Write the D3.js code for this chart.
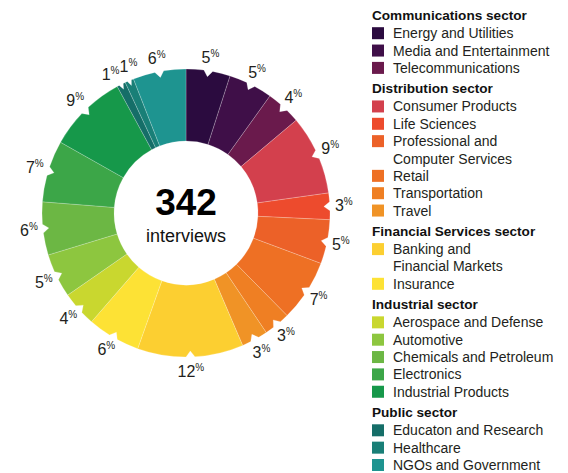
<!DOCTYPE html>
<html>
<head>
<meta charset="utf-8">
<script src="https://cdn.jsdelivr.net/npm/d3@7"></script>
<style>
  html, body { margin: 0; padding: 0; background: #fff; }
  svg { display: block; font-family: "Liberation Sans", Arial, Helvetica, sans-serif; }
</style>
</head>
<body>
<div id="chart"></div>
<script>
// industries, clockwise from 12 o'clock
const categories = [
  "Energy and Utilities", "Media and Entertainment", "Telecommunications",
  "Consumer Products", "Life Sciences", "Professional and\nComputer Services", "Retail", "Transportation", "Travel",
  "Banking and\nFinancial Markets", "Insurance",
  "Aerospace and Defense", "Automotive", "Chemicals and Petroleum", "Electronics", "Industrial Products",
  "Educaton and Research", "Healthcare", "NGOs and Government"
];
const sectorOf = [
  0, 0, 0,
  1, 1, 1, 1, 1, 1,
  2, 2,
  3, 3, 3, 3, 3,
  4, 4, 4
];
const sectors = ["Communications sector", "Distribution sector", "Financial Services sector", "Industrial sector", "Public sector"];
const percents = [5, 5, 4, 9, 3, 5, 7, 3, 3, 12, 6, 4, 5, 6, 7, 9, 1, 1, 6];
const colors = [
  "#2b0b3f", "#3f0f48", "#6a1a4c",
  "#d3404d", "#ed4b2d", "#ec6128", "#ee7024", "#ef7f23", "#f09326",
  "#fccf31", "#fde235",
  "#c9d72f", "#8dc63f", "#6cb744", "#3ca648", "#16984a",
  "#156e68", "#197f77", "#1e9490"
];
const total = 342;
const totalLabel = "interviews";

const config = {
  width: 568, height: 473,
  cx: 186, cy: 213,
  inner: 72, outer: 144,
  labelR: 158,
  legendX: 372, legendY: 6
};

const svg = d3.select("#chart").append("svg")
  .attr("width", config.width)
  .attr("height", config.height);

const data = categories.map((c, i) => ({name: c, value: percents[i], color: colors[i]}));

const pie = d3.pie().sort(null).value(d => d.value);
const arcs = pie(data);

// slice with a little V notch in the middle of the outer edge
function slicePath(d) {
  const r0 = config.inner, r1 = config.outer;
  const a0 = d.startAngle, a1 = d.endAngle, am = (a0 + a1) / 2;
  const span = a1 - a0;
  const half = Math.min(4.5 / r1, span / 4);
  const depth = Math.min(6, span * r1 * 0.6);
  const pt = (r, a) => [r * Math.sin(a), -r * Math.cos(a)];
  const p = d3.path();
  p.moveTo(...pt(r0, a0));
  p.lineTo(...pt(r1, a0));
  p.arc(0, 0, r1, a0 - Math.PI / 2, am - half - Math.PI / 2);
  p.lineTo(...pt(r1 - depth, am));
  p.lineTo(...pt(r1, am + half));
  p.arc(0, 0, r1, am + half - Math.PI / 2, a1 - Math.PI / 2);
  p.lineTo(...pt(r0, a1));
  p.arc(0, 0, r0, a1 - Math.PI / 2, a0 - Math.PI / 2, true);
  p.closePath();
  return p.toString();
}

const g = svg.append("g")
  .attr("transform", `translate(${config.cx},${config.cy})`);

g.append("g")
  .selectAll("path")
  .data(arcs)
  .join("path")
    .attr("d", slicePath)
    .attr("fill", d => d.data.color)
    .attr("stroke", "#fff")
    .attr("stroke-opacity", 0.35)
    .attr("stroke-width", 0.6);

// label angles, pushed apart where slices are too thin
const minSep = 0.125;
let ang = arcs.map(d => (d.startAngle + d.endAngle) / 2);
for (let k = 0; k < 60; k++) {
  for (let i = 0; i < ang.length - 1; i++) {
    let gap = ang[i + 1] - ang[i];
    if (gap < minSep) {
      let push = (minSep - gap) / 2;
      ang[i] -= push;
      ang[i + 1] += push;
    }
  }
}
arcs.forEach((d, i) => d.labelAngle = ang[i]);

// percentage labels
const labels = g.append("g")
  .attr("text-anchor", "middle")
  .attr("fill", "#231f20")
  .selectAll("text")
  .data(arcs)
  .join("text")
    .attr("transform", d => `translate(${config.labelR * Math.sin(d.labelAngle)},${-config.labelR * Math.cos(d.labelAngle)})`);
labels.append("tspan")
  .attr("font-size", 16)
  .attr("dy", "0.36em")
  .text(d => d.data.value);
labels.append("tspan")
  .attr("font-size", 10)
  .attr("dy", "-0.6em")
  .text("%");

// centre text
g.append("text")
  .attr("text-anchor", "middle")
  .attr("y", 2)
  .attr("font-size", 37)
  .attr("font-weight", "bold")
  .attr("fill", "#000")
  .text(total);
g.append("text")
  .attr("text-anchor", "middle")
  .attr("y", 29)
  .attr("font-size", 18)
  .attr("fill", "#111")
  .text(totalLabel);

// legend
const legend = svg.append("g")
  .attr("transform", `translate(${config.legendX},0)`);
const step = 17.35, headerH = 21.2;
let y = config.legendY;
sectors.forEach((s, si) => {
  legend.append("text")
    .attr("x", 0)
    .attr("y", y + 14)
    .attr("font-size", 13.6)
    .attr("font-weight", "bold")
    .attr("fill", "#111")
    .text(s);
  y += headerH;
  categories.forEach((c, i) => {
    if (sectorOf[i] !== si) return;
    legend.append("rect")
      .attr("x", 0)
      .attr("y", y)
      .attr("width", 12)
      .attr("height", 12)
      .attr("fill", colors[i]);
    c.split("\n").forEach(line => {
      legend.append("text")
        .attr("x", 21)
        .attr("y", y + 11)
        .attr("font-size", 14)
        .attr("fill", "#231f20")
        .text(line);
      y += step;
    });
  });
});
</script>
</body>
</html>
